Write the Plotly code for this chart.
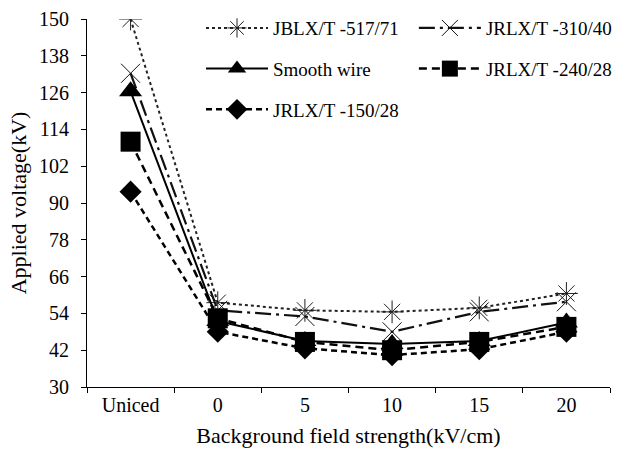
import plotly.graph_objects as go

categories = ["Uniced", "0", "5", "10", "15", "20"]
jblx_517 = [150, 57.5, 55, 54.5, 55.8, 60.5]
jrlx_310 = [132.3, 55, 53, 48, 54.5, 57.8]
smooth_wire = [126.4, 51.5, 45, 44, 45, 51]
jrlx_240 = [110, 52.4, 44.7, 42, 44.7, 49.6]
jrlx_150 = [93.7, 48, 42.6, 40.4, 42.3, 48]
y_ticks = [30, 42, 54, 66, 78, 90, 102, 114, 126, 138, 150]

FONT = "Liberation Serif"

fig = go.Figure()
fig.add_trace(go.Scatter(
    x=categories, y=jblx_517, name="JBLX/T -517/71", mode="lines+markers",
    legend="legend", legendgroup="a",
    line=dict(color="#222", width=2, dash="dot"),
    marker=dict(symbol="asterisk-open", size=19, line=dict(color="#555", width=1))))
fig.add_trace(go.Scatter(
    x=categories, y=jrlx_310, name="JRLX/T -310/40", mode="lines+markers",
    legend="legend2", legendgroup="b",
    line=dict(color="#111", width=2.2, dash="16px,5px,3px,5px"),
    marker=dict(symbol="x-thin-open", size=19, line=dict(color="#555", width=1))))
fig.add_trace(go.Scatter(
    x=categories, y=smooth_wire, name="Smooth wire", mode="lines+markers",
    legend="legend", legendgroup="c",
    line=dict(color="#000", width=2, dash="solid"),
    marker=dict(symbol="triangle-up", size=20, color="#000")))
fig.add_trace(go.Scatter(
    x=categories, y=jrlx_240, name="JRLX/T -240/28", mode="lines+markers",
    legend="legend2", legendgroup="d",
    line=dict(color="#000", width=2.5, dash="8px,5px"),
    marker=dict(symbol="square", size=20, color="#000")))
fig.add_trace(go.Scatter(
    x=categories, y=jrlx_150, name="JRLX/T -150/28", mode="lines+markers",
    legend="legend", legendgroup="e",
    line=dict(color="#000", width=2.5, dash="6px,4px"),
    marker=dict(symbol="diamond", size=17, color="#000")))

legend_common = dict(orientation="v", xanchor="left", yanchor="top",
                     tracegroupgap=13, font=dict(size=19, family=FONT),
                     itemwidth=62, bgcolor="rgba(0,0,0,0)", borderwidth=0)

fig.update_layout(
    width=627, height=449,
    margin=dict(l=87, r=17, t=19, b=62, autoexpand=False),
    paper_bgcolor="white", plot_bgcolor="white",
    font=dict(family=FONT, size=20, color="#000"),
    showlegend=True,
    legend=dict(x=0.218, y=1.027, **legend_common),
    legend2=dict(x=0.625, y=1.027, **legend_common),
    xaxis=dict(
        type="category", categoryorder="array", categoryarray=categories,
        range=[-0.5, 5.5], showline=True, linecolor="#000", linewidth=1,
        ticks="outside", tickson="boundaries", ticklen=5, tickcolor="#000",
        tickfont=dict(size=20, family=FONT), automargin=False,
        showgrid=False, zeroline=False,
        title=dict(text="Background field strength(kV/cm)", standoff=12,
                   font=dict(size=22, family=FONT))),
    yaxis=dict(
        range=[30, 150], tickvals=y_ticks, showline=True, linecolor="#000",
        linewidth=1, ticks="outside", ticklen=5, tickcolor="#000",
        ticklabelstandoff=8, tickfont=dict(size=20, family=FONT),
        automargin=False,
        showgrid=False, zeroline=False,
        title=dict(text="Applied voltage(kV)", standoff=6,
                   font=dict(size=22, family=FONT))),
)

fig.write_html("out.html")
